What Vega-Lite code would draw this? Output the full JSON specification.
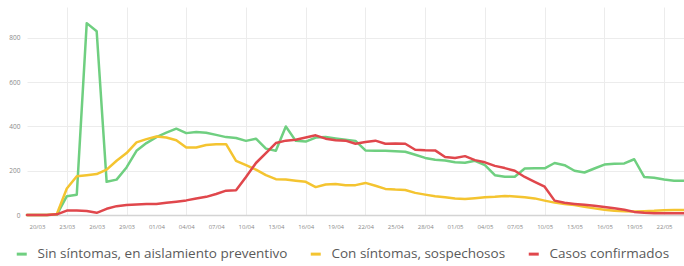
{
  "$schema": "https://vega.github.io/schema/vega-lite/v6.json",
  "width": 657,
  "height": 208,
  "autosize": "none",
  "padding": {"left": 27, "top": 7, "right": 0, "bottom": 51},
  "background": "#ffffff",
  "config": {
    "view": {"stroke": null},
    "font": "Open Sans"
  },
  "datasets": {
    "series": [
      {"fecha": "2020-03-19", "sin": 0, "con": 0, "conf": 0},
      {"fecha": "2020-03-20", "sin": 0, "con": 0, "conf": 0},
      {"fecha": "2020-03-21", "sin": 0, "con": 0, "conf": 0},
      {"fecha": "2020-03-22", "sin": 2, "con": 5, "conf": 3},
      {"fecha": "2020-03-23", "sin": 85, "con": 120, "conf": 20},
      {"fecha": "2020-03-24", "sin": 92, "con": 175, "conf": 20},
      {"fecha": "2020-03-25", "sin": 867, "con": 180, "conf": 18},
      {"fecha": "2020-03-26", "sin": 830, "con": 185, "conf": 10},
      {"fecha": "2020-03-27", "sin": 150, "con": 205, "conf": 28},
      {"fecha": "2020-03-28", "sin": 160, "con": 245, "conf": 40},
      {"fecha": "2020-03-29", "sin": 215, "con": 280, "conf": 45},
      {"fecha": "2020-03-30", "sin": 290, "con": 328, "conf": 48},
      {"fecha": "2020-03-31", "sin": 325, "con": 343, "conf": 50},
      {"fecha": "2020-04-01", "sin": 352, "con": 355, "conf": 50},
      {"fecha": "2020-04-02", "sin": 372, "con": 350, "conf": 55},
      {"fecha": "2020-04-03", "sin": 390, "con": 338, "conf": 60},
      {"fecha": "2020-04-04", "sin": 370, "con": 305, "conf": 66},
      {"fecha": "2020-04-05", "sin": 375, "con": 305, "conf": 75},
      {"fecha": "2020-04-06", "sin": 372, "con": 316, "conf": 82},
      {"fecha": "2020-04-07", "sin": 362, "con": 320, "conf": 95},
      {"fecha": "2020-04-08", "sin": 352, "con": 320, "conf": 110},
      {"fecha": "2020-04-09", "sin": 348, "con": 245, "conf": 112},
      {"fecha": "2020-04-10", "sin": 335, "con": 225, "conf": 172},
      {"fecha": "2020-04-11", "sin": 345, "con": 205, "conf": 235},
      {"fecha": "2020-04-12", "sin": 300, "con": 180, "conf": 280},
      {"fecha": "2020-04-13", "sin": 290, "con": 162, "conf": 325},
      {"fecha": "2020-04-14", "sin": 400, "con": 160, "conf": 336},
      {"fecha": "2020-04-15", "sin": 335, "con": 155, "conf": 340},
      {"fecha": "2020-04-16", "sin": 332, "con": 150, "conf": 350},
      {"fecha": "2020-04-17", "sin": 350, "con": 126, "conf": 360},
      {"fecha": "2020-04-18", "sin": 352, "con": 138, "conf": 345},
      {"fecha": "2020-04-19", "sin": 346, "con": 140, "conf": 338},
      {"fecha": "2020-04-20", "sin": 340, "con": 134, "conf": 336},
      {"fecha": "2020-04-21", "sin": 335, "con": 135, "conf": 322},
      {"fecha": "2020-04-22", "sin": 292, "con": 145, "conf": 330},
      {"fecha": "2020-04-23", "sin": 290, "con": 132, "conf": 336},
      {"fecha": "2020-04-24", "sin": 290, "con": 118, "conf": 322},
      {"fecha": "2020-04-25", "sin": 288, "con": 115, "conf": 323},
      {"fecha": "2020-04-26", "sin": 286, "con": 113, "conf": 322},
      {"fecha": "2020-04-27", "sin": 272, "con": 100, "conf": 295},
      {"fecha": "2020-04-28", "sin": 258, "con": 92, "conf": 293},
      {"fecha": "2020-04-29", "sin": 250, "con": 85, "conf": 292},
      {"fecha": "2020-04-30", "sin": 246, "con": 80, "conf": 262},
      {"fecha": "2020-05-01", "sin": 238, "con": 75, "conf": 258},
      {"fecha": "2020-05-02", "sin": 236, "con": 72, "conf": 266},
      {"fecha": "2020-05-03", "sin": 245, "con": 76, "conf": 248},
      {"fecha": "2020-05-04", "sin": 225, "con": 80, "conf": 238},
      {"fecha": "2020-05-05", "sin": 180, "con": 82, "conf": 222},
      {"fecha": "2020-05-06", "sin": 173, "con": 86, "conf": 212},
      {"fecha": "2020-05-07", "sin": 173, "con": 84, "conf": 200},
      {"fecha": "2020-05-08", "sin": 210, "con": 80, "conf": 172},
      {"fecha": "2020-05-09", "sin": 211, "con": 75, "conf": 150},
      {"fecha": "2020-05-10", "sin": 211, "con": 65, "conf": 128},
      {"fecha": "2020-05-11", "sin": 235, "con": 56, "conf": 65},
      {"fecha": "2020-05-12", "sin": 225, "con": 50, "conf": 55},
      {"fecha": "2020-05-13", "sin": 200, "con": 45, "conf": 50},
      {"fecha": "2020-05-14", "sin": 192, "con": 37, "conf": 46},
      {"fecha": "2020-05-15", "sin": 210, "con": 30, "conf": 42},
      {"fecha": "2020-05-16", "sin": 228, "con": 24, "conf": 36},
      {"fecha": "2020-05-17", "sin": 232, "con": 19, "conf": 30},
      {"fecha": "2020-05-18", "sin": 233, "con": 17, "conf": 24},
      {"fecha": "2020-05-19", "sin": 252, "con": 16, "conf": 14},
      {"fecha": "2020-05-20", "sin": 172, "con": 17, "conf": 10},
      {"fecha": "2020-05-21", "sin": 168, "con": 19, "conf": 8},
      {"fecha": "2020-05-22", "sin": 160, "con": 22, "conf": 8},
      {"fecha": "2020-05-23", "sin": 155, "con": 23, "conf": 8},
      {"fecha": "2020-05-24", "sin": 155, "con": 23, "conf": 8}
    ]
  },
  "data": {"name": "series"},
  "transform": [
    {"fold": ["sin", "con", "conf"], "as": ["serie", "valor"]}
  ],
  "mark": {"type": "line", "strokeWidth": 2.5, "interpolate": "linear", "strokeJoin": "round", "strokeCap": "round"},
  "encoding": {
    "x": {
      "field": "fecha",
      "type": "temporal",
      "scale": {
        "type": "utc",
        "domain": [
          {"year": 2020, "month": 3, "date": 19, "utc": true},
          {"year": 2020, "month": 5, "date": 24, "utc": true}
        ]
      },
      "axis": {
        "title": null,
        "values": [
          {"year": 2020, "month": 3, "date": 20, "utc": true},
          {"year": 2020, "month": 3, "date": 23, "utc": true},
          {"year": 2020, "month": 3, "date": 26, "utc": true},
          {"year": 2020, "month": 3, "date": 29, "utc": true},
          {"year": 2020, "month": 4, "date": 1, "utc": true},
          {"year": 2020, "month": 4, "date": 4, "utc": true},
          {"year": 2020, "month": 4, "date": 7, "utc": true},
          {"year": 2020, "month": 4, "date": 10, "utc": true},
          {"year": 2020, "month": 4, "date": 13, "utc": true},
          {"year": 2020, "month": 4, "date": 16, "utc": true},
          {"year": 2020, "month": 4, "date": 19, "utc": true},
          {"year": 2020, "month": 4, "date": 22, "utc": true},
          {"year": 2020, "month": 4, "date": 25, "utc": true},
          {"year": 2020, "month": 4, "date": 28, "utc": true},
          {"year": 2020, "month": 5, "date": 1, "utc": true},
          {"year": 2020, "month": 5, "date": 4, "utc": true},
          {"year": 2020, "month": 5, "date": 7, "utc": true},
          {"year": 2020, "month": 5, "date": 10, "utc": true},
          {"year": 2020, "month": 5, "date": 13, "utc": true},
          {"year": 2020, "month": 5, "date": 16, "utc": true},
          {"year": 2020, "month": 5, "date": 19, "utc": true},
          {"year": 2020, "month": 5, "date": 22, "utc": true}
        ],
        "labelExpr": "utcFormat(datum.value, '%d/%m')",
        "labelFontSize": 6,
        "labelColor": "#8a8a8a",
        "labelPadding": 8,
        "labelFlush": false,
        "labelOverlap": false,
        "ticks": false,
        "domain": true,
        "domainColor": "#d4d4d4",
        "domainWidth": 1.5,
        "grid": true,
        "gridColor": "#ececec",
        "gridOpacity": {"condition": {"test": "round((datum.value - utc(2020,2,23)) / 86400000) % 6 == 0", "value": 1}, "value": 0}
      }
    },
    "y": {
      "field": "valor",
      "type": "quantitative",
      "scale": {"domain": [0, 940], "nice": false},
      "axis": {
        "title": null,
        "values": [0, 200, 400, 600, 800],
        "labelFontSize": 6.5,
        "labelColor": "#8a8a8a",
        "labelPadding": 7,
        "ticks": false,
        "domain": false,
        "grid": true,
        "gridColor": "#ececec",
        "gridWidth": 1
      }
    },
    "color": {
      "field": "serie",
      "type": "nominal",
      "scale": {
        "domain": ["sin", "con", "conf"],
        "range": ["#6fcf80", "#f4c430", "#e0474c"]
      },
      "legend": {
        "title": null,
        "orient": "none",
        "direction": "horizontal",
        "legendX": -12,
        "legendY": 240,
        "labelExpr": "datum.value == 'sin' ? 'Sin síntomas, en aislamiento preventivo' : datum.value == 'con' ? 'Con síntomas, sospechosos' : 'Casos confirmados'",
        "labelFont": "Open Sans",
        "labelFontSize": 13.5,
        "labelColor": "#5a5a5a",
        "labelOffset": 9,
        "symbolType": "stroke",
        "symbolStrokeWidth": 3,
        "symbolSize": 100,
        "columnPadding": 16,
        "labelLimit": 400
      }
    }
  }
}
